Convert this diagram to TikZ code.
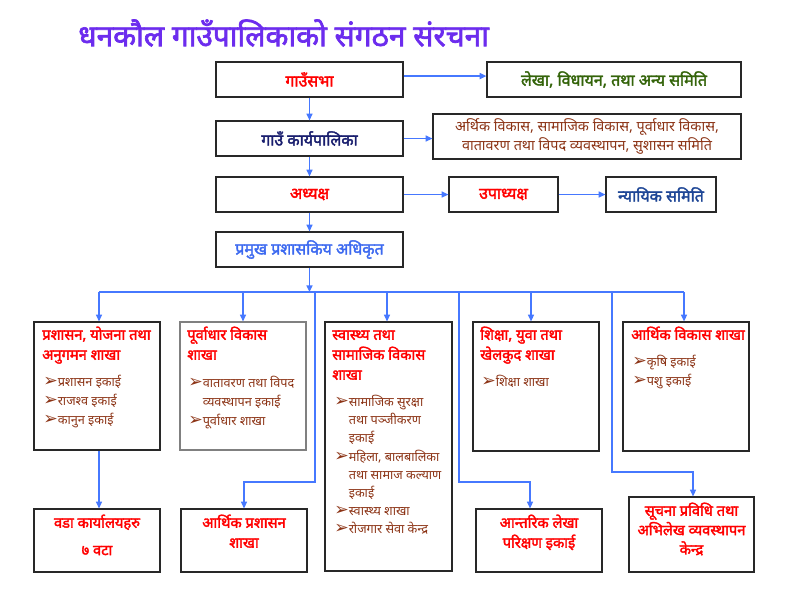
\documentclass[tikz,border=0pt]{standalone}
\usepackage{fontspec}
\newfontfamily\dev[Script=Devanagari]{Noto Sans}
\newfontfamily\devb[Script=Devanagari,FakeBold=2.2]{Noto Sans}
\newfontfamily\symf{DejaVu Sans}
\usetikzlibrary{arrows.meta}
\definecolor{ttlc}{RGB}{108,44,238}
\definecolor{redc}{RGB}{255,0,0}
\definecolor{grnc}{RGB}{52,100,10}
\definecolor{navyc}{RGB}{25,30,110}
\definecolor{brnc}{RGB}{140,52,22}
\definecolor{dbluec}{RGB}{30,70,150}
\definecolor{lbluec}{RGB}{60,105,240}
\definecolor{linec}{RGB}{70,120,255}
\definecolor{boxc}{RGB}{40,40,40}
\newcommand\itemarrow{{\symf\fontsize{13}{12}\selectfont\char"27A2}}
\newcommand\tstrut[1]{\rule{0pt}{#1}}
\newcommand\mkbox[7][]{\node[box,#1,minimum width={(#5-#3)*0.75pt},minimum height={(#6-#4)*0.75pt}] (#2) at ({(#3+#5)/2},{(#4+#6)/2}) {#7};}
\tikzset{
  box/.style={draw=boxc, line width=0.9pt, inner sep=0pt, fill=white, align=center,
    font=\devb\fontsize{12}{14}\selectfont},
  conn/.style={draw=linec, line width=1.1pt, -{Triangle[length=5pt,width=4.5pt]}},
  plain/.style={draw=linec, line width=1.1pt},
  hd/.style={inner sep=0pt, anchor=north west, align=left, text=redc,
    font=\devb\fontsize{11}{15}\selectfont},
  itm/.style={inner sep=0pt, anchor=north west, align=left, text=brnc,
    font=\dev\fontsize{9.5}{14.25}\selectfont},
  itmb/.style={itm, font=\dev\fontsize{9.5}{13.6}\selectfont},
  bt/.style={inner sep=0pt, anchor=north, align=center, text=redc,
    font=\devb\fontsize{11}{15}\selectfont},
}
\begin{document}
\begin{tikzpicture}[x=0.75pt,y=-0.75pt]
\useasboundingbox (0,0) rectangle (792,612);
\fill[white] (0,0) rectangle (792,612);
\node[inner sep=0pt, anchor=west, text=ttlc, font=\devb\fontsize{22.4}{26}\selectfont] (title) at (78,33) {धनकौल गाउँपालिकाको संगठन संरचना};
% top boxes
\mkbox[text=redc]{A}{216}{62}{403}{97}{गाउँसभा}
\mkbox[text=grnc]{B}{487}{62}{741}{97}{लेखा, विधायन, तथा अन्य समिति}
\mkbox[text=navyc]{C}{216}{121}{403}{156}{गाउँ कार्यपालिका}
\mkbox[text=brnc, font=\dev\fontsize{10.8}{14.8}\selectfont]{D}{433}{114}{741}{159}{अर्थिक विकास, सामाजिक विकास, पूर्वाधार विकास,\\वातावरण तथा विपद व्यवस्थापन, सुशासन समिति}
\mkbox[text=redc]{E}{216}{177}{403}{212}{अध्यक्ष}
\mkbox[text=redc]{F}{449}{177}{558}{212}{उपाध्यक्ष}
\mkbox[text=dbluec]{G}{606}{177}{716}{212}{न्यायिक समिति}
\mkbox[text=lbluec]{H}{216}{232}{403}{267}{प्रमुख प्रशासकिय अधिकृत}
% branch boxes
\mkbox{b1}{34}{322}{160}{450}{}
\mkbox[draw=gray]{b2}{180}{322}{306}{450}{}
\mkbox{b3}{325}{322}{452}{571}{}
\mkbox{b4}{473}{322}{599}{451}{}
\mkbox{b5}{623}{322}{749}{451}{}
% bottom boxes
\mkbox{w1}{34}{509}{160}{572}{}
\mkbox{p2}{181}{509}{307}{572}{}
\mkbox{p4}{476}{509}{602}{572}{}
\mkbox{p5}{629}{497}{754}{572}{}
% branch texts
\node[hd] (h1) at (42,323.5) {\tstrut{12pt}प्रशासन, योजना तथा\\अनुगमन शाखा};
\node[itm] (i1) at (43,372.5) {\tstrut{10pt}\itemarrow प्रशासन इकाई\\\itemarrow राजश्व इकाई\\\itemarrow कानुन इकाई};
\node[hd] (h2) at (187,323.5) {\tstrut{12pt}पूर्वाधार विकास\\शाखा};
\node[itm] (i2) at (188,373.5) {\tstrut{10pt}\itemarrow वातावरण तथा विपद\\\phantom{\itemarrow}व्यवस्थापन इकाई\\\itemarrow पूर्वाधार शाखा};
\node[hd] (h3) at (332,323.5) {\tstrut{12pt}स्वास्थ्य तथा\\सामाजिक विकास\\शाखा};
\node[itmb] (i3) at (334,393) {\tstrut{10pt}\itemarrow सामाजिक सुरक्षा\\\phantom{\itemarrow}तथा पञ्जीकरण\\\phantom{\itemarrow}इकाई\\\itemarrow महिला, बालबालिका\\\phantom{\itemarrow}तथा सामाज कल्याण\\\phantom{\itemarrow}इकाई\\\itemarrow स्वास्थ्य शाखा\\\itemarrow रोजगार सेवा केन्द्र};
\node[hd] (h4) at (480,323.5) {\tstrut{12pt}शिक्षा, युवा तथा\\खेलकुद शाखा};
\node[itm] (i4) at (481,372.5) {\tstrut{10pt}\itemarrow शिक्षा शाखा};
\node[hd] (h5) at (631,323.5) {\tstrut{12pt}आर्थिक विकास शाखा};
\node[itm] (i5) at (632,352.5) {\tstrut{10pt}\itemarrow कृषि इकाई\\\itemarrow पशु इकाई};
% bottom texts
\node[bt, font=\devb\fontsize{11}{20.5}\selectfont] (tw1) at (97,511.5) {\tstrut{12pt}वडा कार्यालयहरु\\७ वटा};
\node[bt] (tp2) at (244,511.5) {\tstrut{12pt}आर्थिक प्रशासन\\शाखा};
\node[bt] (tp4) at (539,511.5) {\tstrut{12pt}आन्तरिक लेखा\\परिक्षण इकाई};
\node[bt, font=\devb\fontsize{11}{14.5}\selectfont] (tp5) at (691.5,499.5) {\tstrut{12pt}सूचना प्रविधि तथा\\अभिलेख व्यवस्थापन\\केन्द्र};
% connectors
\draw[conn] (A) -- (C);
\draw[conn] (C) -- (E);
\draw[conn] (E) -- (H);
\draw[conn] ([yshift=2.6pt]A.east) -- ([yshift=2.6pt]B.west);
\draw[conn] (C.east) -- (C.east -| D.west);
\draw[conn] (E.east) -- (F.west);
\draw[conn] (F.east) -- (G.west);
\coordinate (bm) at (309.5,292);
\coordinate (bl) at (99,292);
\coordinate (br) at (684,292);
\draw[plain] (bl) -- (br);
\draw[conn] (H.south) -- (bm);
\coordinate (d1) at (99,292);
\coordinate (d2) at (243,292);
\coordinate (d3) at (387,292);
\coordinate (d4) at (531,292);
\coordinate (d5) at (684,292);
\draw[conn] (d1) -- (d1 |- b1.north);
\draw[conn] (d2) -- (d2 |- b2.north);
\draw[conn] (d3) -- (d3 |- b3.north);
\draw[conn] (d4) -- (d4 |- b4.north);
\draw[conn] (d5) -- (d5 |- b5.north);
\draw[conn] (d1 |- b1.south) -- (d1 |- w1.north);
\coordinate (j2) at (315,292);
\coordinate (k2) at (315,482);
\draw[conn] (j2) -- (k2) -| (p2.north);
\coordinate (j4) at (459,292);
\coordinate (k4) at (459,482);
\coordinate (m4) at (530,482);
\draw[conn] (j4) -- (k4) -- (m4) -- (m4 |- p4.north);
\coordinate (j5) at (612,292);
\coordinate (k5) at (612,472);
\coordinate (m5) at (693,472);
\draw[conn] (j5) -- (k5) -- (m5) -- (m5 |- p5.north);
\end{tikzpicture}
\end{document}
